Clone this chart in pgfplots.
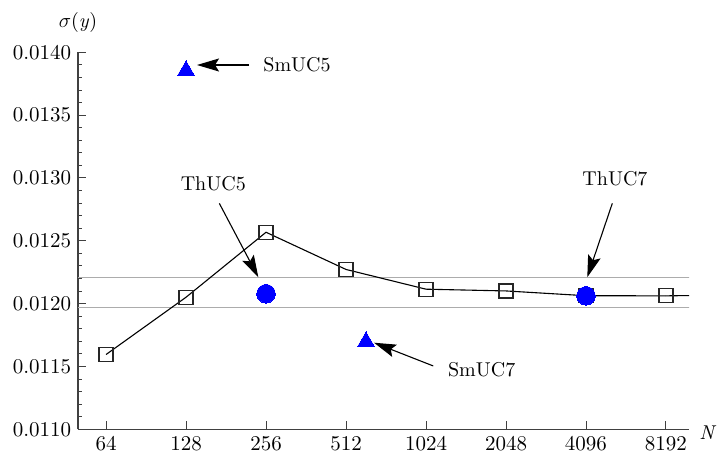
\documentclass[border=0pt]{standalone}
\usepackage{fontspec}
\setmainfont{lmroman10-regular.otf}[ItalicFont=lmroman10-italic.otf, BoldFont=lmroman10-bold.otf]
\usepackage{pgfplots}
\pgfplotsset{compat=1.18}
\usetikzlibrary{arrows.meta}

\begin{document}
\fontsize{20}{24}\selectfont
\begin{tikzpicture}
\begin{axis}[
  scale only axis, width=611pt, height=377pt,
  xmode=log, log basis x=2,
  xmin=50.2, xmax=10000,
  ymin=0.0110, ymax=0.0140,
  axis lines=left,
  axis line style={black!75, line width=1.1pt, -},
  xtick={64,128,256,512,1024,2048,4096,8192},
  xticklabels={64,128,256,512,1024,2048,4096,8192},
  xminorticks=false,
  ytick={0.0110,0.0115,0.0120,0.0125,0.0130,0.0135,0.0140},
  minor y tick num=4,
  scaled y ticks=false,
  tick align=inside,
  major tick length=8pt, minor tick length=4pt,
  tick style={black!75, line width=1pt},
  yticklabel style={/pgf/number format/.cd, fixed, fixed zerofill, precision=4, /tikz/.cd},
  /pgf/number format/assume math mode=true,
  ticklabel style={font=\fontsize{21}{25}\selectfont, black},
  clip=true,
]
% reference band
\addplot[gray!65, line width=1.3pt] coordinates {(40,0.01221) (12000,0.01221)};
\addplot[gray!65, line width=1.3pt] coordinates {(40,0.011968) (12000,0.011968)};
% main series
\addplot[black, line width=1.1pt, mark=square, mark size=7pt,
  mark options={draw=black!85, line width=1.3pt, fill=none}] coordinates {
  (64,0.011595) (128,0.012051) (256,0.012568) (512,0.012272)
  (1024,0.012115) (2048,0.012101) (4096,0.012063) (8192,0.012062)
};
\addplot[black, line width=1.1pt, forget plot] coordinates {(8192,0.012062) (16384,0.01207)};
% ThUC
\addplot[blue, only marks, mark=*, mark size=9.3pt, mark options={draw=blue, line width=0pt, fill=blue}]
  coordinates {(256,0.012079) (4096,0.012062)};
% SmUC
\addplot[blue, only marks, mark=triangle*, mark size=9.8pt, mark options={draw=blue, line width=0pt, fill=blue}]
  coordinates {(128,0.013854) (609,0.011697)};

% annotations
\draw[-{Stealth[length=22pt,width=13pt,inset=4pt]}, line width=1.1pt]
  (axis cs:220.9,0.013899) -- (axis cs:140.8,0.013899);
\node at (axis cs:334.9,0.013899) {SmUC5};
\draw[-{Stealth[length=22pt,width=13pt,inset=4pt]}, line width=1.1pt]
  (axis cs:170.8,0.012798) -- (axis cs:239.5,0.012210);
\node at (axis cs:162.1,0.012952) {ThUC5};
\draw[-{Stealth[length=22pt,width=13pt,inset=4pt]}, line width=1.1pt]
  (axis cs:5145,0.012798) -- (axis cs:4142,0.012210);
\node at (axis cs:5266,0.012997) {ThUC7};
\draw[-{Stealth[length=22pt,width=13pt,inset=4pt]}, line width=1.1pt]
  (axis cs:1090.7,0.011504) -- (axis cs:652.6,0.011689);
\node at (axis cs:1659,0.011472) {SmUC7};
\end{axis}
\node[yshift=30pt] at (current axis.north west) {$\sigma$(\textit{y})};
\node[xshift=19pt, yshift=-3pt] at (current axis.south east) {\textit{N}};
\pgfresetboundingbox
\path[use as bounding box] (-78pt,-26.7pt) rectangle (639pt,429.3pt);
\end{tikzpicture}
\end{document}
